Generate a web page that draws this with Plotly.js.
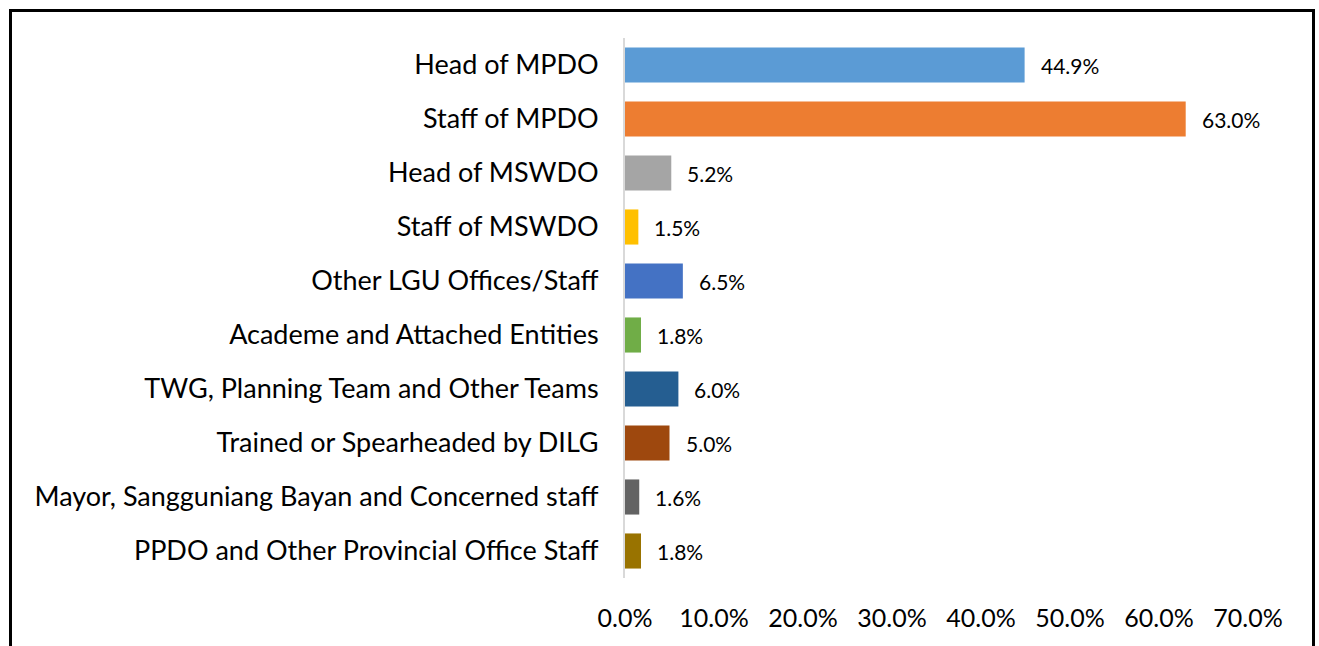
<!DOCTYPE html>
<html>
<head>
<meta charset="utf-8">
<script src="https://cdn.plot.ly/plotly-3.0.1.min.js"></script>
<style>
  html, body { margin: 0; padding: 0; background: #fff; }
  #chart { width: 1319px; height: 646px; }
</style>
</head>
<body>
<div id="chart"></div>
<script>
const categories = [
  "Head of MPDO",
  "Staff of MPDO",
  "Head of MSWDO",
  "Staff of MSWDO",
  "Other LGU Offices/Staff",
  "Academe and Attached Entities",
  "TWG, Planning Team and Other Teams",
  "Trained or Spearheaded by DILG",
  "Mayor, Sangguniang Bayan and Concerned staff",
  "PPDO and Other Provincial Office Staff"
];
const values = [44.9, 63.0, 5.2, 1.5, 6.5, 1.8, 6.0, 5.0, 1.6, 1.8];
const barColors = ["#5B9BD5", "#ED7D31", "#A5A5A5", "#FFC000", "#4472C4",
                   "#70AD47", "#255E91", "#9E480E", "#636363", "#997300"];
const tickValues = [0, 10, 20, 30, 40, 50, 60, 70];
const tickLabels = ["0.0%", "10.0%", "20.0%", "30.0%", "40.0%", "50.0%", "60.0%", "70.0%"];

const FONT = "Lato, 'Open Sans', sans-serif";

const trace = {
  type: "bar",
  orientation: "h",
  y: categories,
  x: values,
  marker: { color: barColors },
  hoverinfo: "x+y"
};

const annotations = values.map((v, i) => ({
  x: v, y: categories[i], xref: "x", yref: "y",
  text: v.toFixed(1) + "%",
  showarrow: false, xanchor: "left", yanchor: "middle",
  xshift: 14,
  font: { family: FONT, size: 21, color: "#000" }
}));

// frame (pixel -> paper conversion based on margins)
const L = 625, R = 71, T = 38, B = 68, W = 1319, H = 646;
const pw = W - L - R, ph = H - T - B;
const px = p => (p - L) / pw;
const py = p => (H - B - p) / ph;

const layout = {
  width: W, height: H,
  margin: { l: L, r: R, t: T, b: B, pad: 0 },
  paper_bgcolor: "#fff", plot_bgcolor: "#fff",
  showlegend: false,
  bargap: 0.35,
  font: { family: FONT, color: "#000" },
  xaxis: {
    range: [0, 70],
    tickvals: tickValues,
    ticktext: tickLabels,
    showgrid: false, zeroline: false, showline: false,
    ticks: "",
    ticklabelstandoff: 23,
    tickfont: { family: FONT, size: 25, color: "#000" },
    fixedrange: true
  },
  yaxis: {
    type: "category",
    autorange: "reversed",
    showgrid: false, zeroline: false,
    showline: true, linecolor: "#D9D9D9", linewidth: 2,
    ticks: "",
    ticklabelstandoff: 19,
    tickfont: { family: FONT, size: 27, color: "#000" },
    fixedrange: true
  },
  annotations: annotations,
  shapes: [{
    type: "rect", xref: "paper", yref: "paper",
    x0: px(10.5), x1: px(1313.5), y0: py(10.5), y1: py(660),
    line: { color: "#000", width: 3 }, fillcolor: "rgba(0,0,0,0)", layer: "above"
  }]
};

Plotly.newPlot("chart", [trace], layout, { displayModeBar: false, responsive: false });
</script>
</body>
</html>
